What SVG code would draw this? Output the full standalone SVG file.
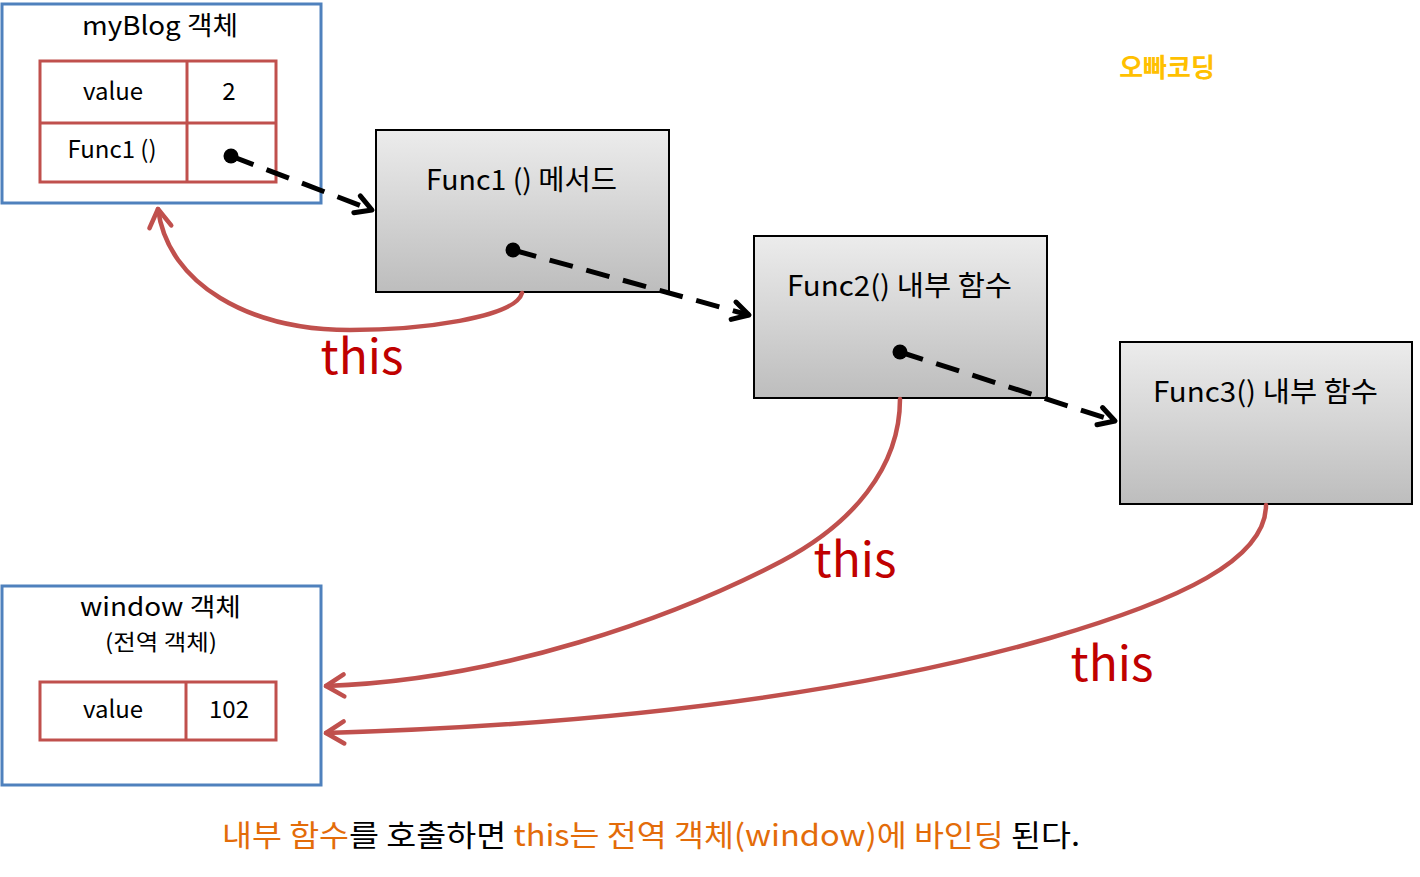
<svg xmlns="http://www.w3.org/2000/svg" width="1420" height="877" viewBox="0 0 1420 877">
<style>
text{font-family:"Noto Sans CJK KR","Noto Sans",sans-serif;fill:#000}
.obj{fill:#fff;stroke:#4F81BD;stroke-width:3}
.tbl{fill:none;stroke:#C0504D;stroke-width:3}
.fn{fill:url(#g);stroke:#000;stroke-width:2}
.t24{font-size:24px}
.t26{font-size:26px}
.t28{font-size:28px}
.dash{fill:none;stroke:#000;stroke-width:5;stroke-dasharray:24 14}
.red{fill:none;stroke:#C0504D;stroke-width:4.5;stroke-linecap:round}
.this{font-size:48px;fill:#C00000}
.or{fill:#E36C09}
</style>
<defs>
<linearGradient id="g" x1="0" y1="0" x2="0" y2="1">
<stop offset="0" stop-color="#ECECEC"/>
<stop offset="1" stop-color="#BDBDBD"/>
</linearGradient>
<marker id="ah" markerUnits="userSpaceOnUse" viewBox="-20 -12 24 24" refX="0" refY="0" markerWidth="24" markerHeight="24" orient="auto">
<path d="M-16,-9 L0,0 L-16,9" fill="none" stroke="#000" stroke-width="5" stroke-linecap="round" stroke-linejoin="round"/>
</marker>
<marker id="rh" markerUnits="userSpaceOnUse" viewBox="-24 -14 28 28" refX="0" refY="0" markerWidth="28" markerHeight="28" orient="auto">
<path d="M-18,-11 L0,0 L-18,11" fill="none" stroke="#C0504D" stroke-width="4.5" stroke-linecap="round" stroke-linejoin="round"/>
</marker>
</defs>
<rect width="1420" height="877" fill="#fff"/>

<g id="myBlog">
<rect class="obj" x="2" y="4" width="319" height="199"/>
<text class="t26" x="82" y="35" textLength="156" lengthAdjust="spacingAndGlyphs">myBlog 객체</text>
<rect class="tbl" x="40" y="61" width="236" height="121"/>
<line class="tbl" x1="187" y1="61" x2="187" y2="182"/>
<line class="tbl" x1="40" y1="123" x2="276" y2="123"/>
<text class="t24" x="113" y="100" text-anchor="middle">value</text>
<text class="t24" x="229" y="100" text-anchor="middle">2</text>
<text class="t24" x="112" y="158" text-anchor="middle">Func1 ()</text>
</g>

<g id="func1">
<rect class="fn" x="376" y="130" width="293" height="162"/>
<text class="t28" x="426" y="190" textLength="191" lengthAdjust="spacingAndGlyphs">Func1 () 메서드</text>
</g>

<g id="func2">
<rect class="fn" x="754" y="236" width="293" height="162"/>
<text class="t28" x="787" y="296" textLength="225" lengthAdjust="spacingAndGlyphs">Func2() 내부 함수</text>
</g>

<g id="func3">
<rect class="fn" x="1120" y="342" width="292" height="162"/>
<text class="t28" x="1153" y="402" textLength="225" lengthAdjust="spacingAndGlyphs">Func3() 내부 함수</text>
</g>

<g id="window">
<rect class="obj" x="2" y="586" width="319" height="199"/>
<text x="80" y="616" font-size="25" textLength="161" lengthAdjust="spacingAndGlyphs">window 객체</text>
<text x="105" y="650" font-size="22" textLength="112" lengthAdjust="spacingAndGlyphs">(전역 객체)</text>
<rect class="tbl" x="40" y="682" width="236" height="58"/>
<line class="tbl" x1="186" y1="682" x2="186" y2="740"/>
<text class="t24" x="113" y="718" text-anchor="middle">value</text>
<text class="t24" x="229" y="718" text-anchor="middle">102</text>
</g>

<g id="connectors">
<circle cx="231" cy="156" r="7.5" fill="#000"/>
<path class="dash" d="M231,156 L372,210" marker-end="url(#ah)"/>
<circle cx="513" cy="250" r="7.5" fill="#000"/>
<path class="dash" d="M513,250 L749,315" marker-end="url(#ah)"/>
<circle cx="900" cy="352" r="7.5" fill="#000"/>
<path class="dash" d="M900,352 L1115,421" marker-end="url(#ah)"/>

<path class="red" d="M522,293 C515,318 420,330 350,330 C250,330 168,285 158,209" marker-end="url(#rh)"/>
<path class="red" d="M900,399 C900,468 852,524 782,561 C675,617 500,680 326,686" marker-end="url(#rh)"/>
<path class="red" d="M1266,505 C1266,560 1180,600 1050,638 C850,695 600,725 326,733" marker-end="url(#rh)"/>
</g>

<g id="labels">
<text class="this" x="362" y="374" text-anchor="middle">this</text>
<text class="this" x="855" y="577" text-anchor="middle">this</text>
<text class="this" x="1112" y="681" text-anchor="middle">this</text>
<text x="1167" y="77" text-anchor="middle" font-size="26" font-weight="bold" style="fill:#FFC000">오빠코딩</text>
<text x="222" y="846" font-size="30" textLength="858" lengthAdjust="spacingAndGlyphs"><tspan class="or">내부 함수</tspan>를 호출하면 <tspan class="or">this는 전역 객체(window)에 바인딩</tspan> 된다.</text>
</g>
</svg>
